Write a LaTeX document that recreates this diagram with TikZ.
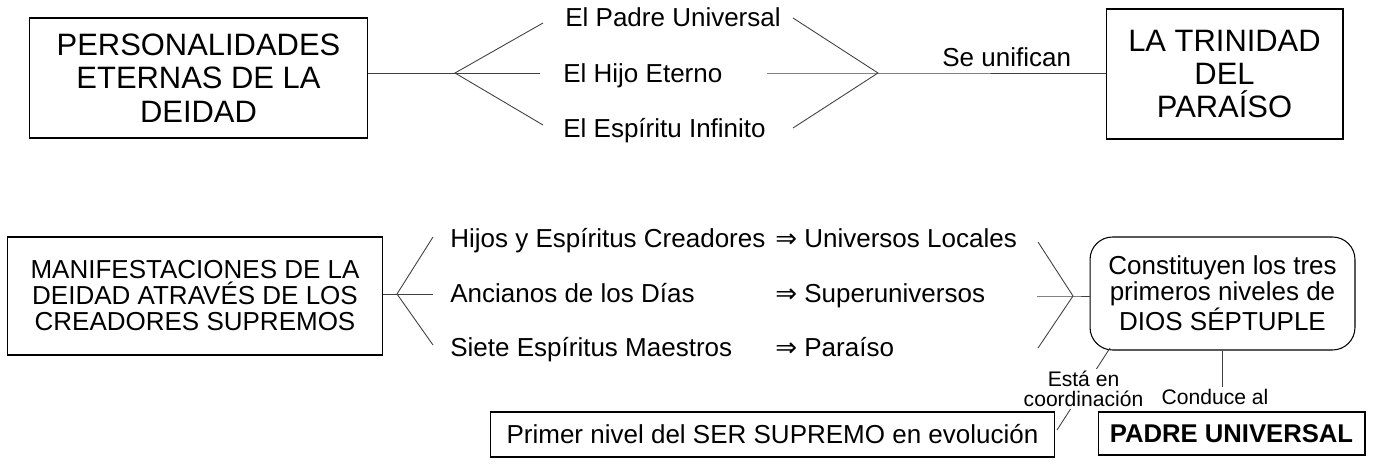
\documentclass[tikz,border=0pt]{standalone}
\usepackage{fontspec}
\setmainfont{Liberation Sans}
\newfontfamily\flecha{DejaVu Sans}

\begin{document}
\begin{tikzpicture}[x=0.02cm, y=-0.02cm,
  caja/.style={draw, line width=0.6pt, inner sep=0pt, align=center},
  grande/.style={font=\fontsize{17.6}{19}\selectfont},
  medio/.style={font=\fontsize{14.8}{14.8}\selectfont},
  texto/.style={medio, inner sep=0pt, text height=10.6pt, text depth=0pt, anchor=west},
  chico/.style={font=\fontsize{12}{11.4}\selectfont, inner sep=1pt, align=center, fill=white},
  rama/.style={draw=black!75, line width=0.5pt}]
\useasboundingbox (0,0) rectangle (1375,465);

% arriba
\node [caja, grande, minimum width=6.78cm, minimum height=2.4cm] (pers) at (198.5,78) {PERSONALIDADES\\ETERNAS DE LA\\DEIDAD};
\node [texto] (padre) at (565,17) {El Padre Universal};
\node [texto] (hijo) at (563,73) {El Hijo Eterno};
\node [texto] (espiritu) at (563,128) {El Esp\'{\i}ritu Infinito};
\node [texto] (unif) at (942,57) {Se unifican};
\node [caja, grande, minimum width=4.74cm, minimum height=2.6cm] (trin) at (1224.5,74) {LA TRINIDAD\\DEL\\PARA\'ISO};

\coordinate (f1) at (455,73);
\coordinate (l1) at (543,23);
\coordinate (l2) at (540,73);
\coordinate (l3) at (543,125);
\coordinate (r1) at (793,18);
\coordinate (r2) at (767,73);
\coordinate (r3) at (793,128);
\coordinate (f2) at (878,73);

\draw [rama] (pers.east |- f1) -- (f1);
\draw [rama] (l1) -- (f1) -- (l3);
\draw [rama] (f1) -- (l2);
\draw [rama] (r1) -- (f2) -- (r3);
\draw [rama] (r2) -- (f2) -- (trin.west |- f2);

% abajo
\node [caja, medio, minimum width=7.52cm, minimum height=2.36cm] (mani) at (195,296) {MANIFESTACIONES DE LA\\DEIDAD ATRAV\'ES DE LOS\\CREADORES SUPREMOS};
\node [texto] (hijos) at (450,238) {Hijos y Esp\'{\i}ritus Creadores};
\node [texto] (ancianos) at (450,293) {Ancianos de los D\'{\i}as};
\node [texto] (siete) at (450,347) {Siete Esp\'{\i}ritus Maestros};
\node [texto] (locales) at (775,238) {{\flecha ⇒} Universos Locales};
\node [texto] (super) at (775,293) {{\flecha ⇒} Superuniversos};
\node [texto] (paraiso) at (775,347) {{\flecha ⇒} Para\'{\i}so};
\node [caja, medio, rounded corners=0.45cm, minimum width=5.3cm, minimum height=2.26cm] (dios) at (1222.5,293.5) {Constituyen los tres\\primeros niveles de\\DIOS S\'EPTUPLE};
\node [caja, medio, minimum width=11.3cm, minimum height=0.9cm] (ser) at (772.5,434.5) {Primer nivel del SER SUPREMO en evoluci\'on};
\node [caja, medio, font=\fontsize{14.6}{14.6}\selectfont\bfseries, minimum width=5.34cm, minimum height=0.86cm] (padreu) at (1231.5,433.5) {PADRE UNIVERSAL};

\coordinate (f3) at (397,294);
\coordinate (m1) at (433,237);
\coordinate (m2) at (433,294);
\coordinate (m3) at (433,345);
\coordinate (n1) at (1038,242);
\coordinate (n2) at (1037,296);
\coordinate (n3) at (1038,348);
\coordinate (f4) at (1073,296);
\coordinate (e1) at (1057,430);
\coordinate (e2) at (1110,348);

\draw [rama] (mani.east |- f3) -- (f3);
\draw [rama] (m1) -- (f3) -- (m3);
\draw [rama] (f3) -- (m2);
\draw [rama] (n1) -- (f4) -- (n3);
\draw [rama] (n2) -- (f4) -- (dios.west |- f4);

\draw [rama] (e1) -- node [chico] (esta) {Est\'a en\\coordinaci\'on} (e2);
\node [chico] (cond) at (1215,397) {Conduce al};
\draw [rama] (dios.south) -- (dios.south |- cond.north);
\end{tikzpicture}
\end{document}
